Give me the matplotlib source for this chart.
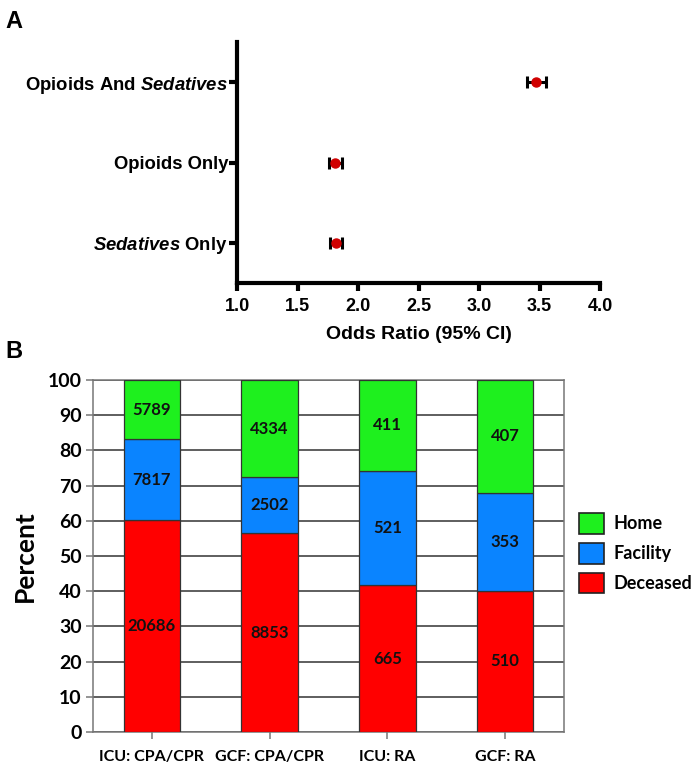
import matplotlib
matplotlib.use("Agg")
import matplotlib.pyplot as plt
import numpy as np

# ---- Panel A data ----
a_labels = ["$\\mathit{Sedatives}$ Only", "Opioids Only", "Opioids And $\\mathit{Sedatives}$"]
a_or = [1.82, 1.81, 3.47]
a_lo = [1.77, 1.76, 3.40]
a_hi = [1.87, 1.87, 3.55]
a_xticks = [1.0, 1.5, 2.0, 2.5, 3.0, 3.5, 4.0]

# ---- Panel B data ----
b_cats = ["ICU: CPA/CPR", "GCF: CPA/CPR", "ICU: RA", "GCF: RA"]
b_deceased = [20686, 8853, 665, 510]
b_facility = [7817, 2502, 521, 353]
b_home = [5789, 4334, 411, 407]
b_series = ["Deceased", "Facility", "Home"]
b_colors = ["#FF0000", "#0A84FF", "#1EF01E"]
b_yticks = list(range(0, 101, 10))

plt.rcParams['mathtext.fontset'] = 'custom'
plt.rcParams['mathtext.it'] = 'Liberation Sans:italic:bold'
plt.rcParams['mathtext.rm'] = 'Liberation Sans:bold'
plt.rcParams['mathtext.bf'] = 'Liberation Sans:bold'

fig = plt.figure(figsize=(6.93, 7.65), dpi=100)

# ---------------- Panel A ----------------
axA = fig.add_axes([0.342, 0.630, 0.5238, 0.315])
ypos = np.arange(len(a_or))
xerr = [np.array(a_or) - np.array(a_lo), np.array(a_hi) - np.array(a_or)]
axA.errorbar(a_or, ypos, xerr=xerr, fmt='none', ecolor='black', elinewidth=2.2,
             capsize=4, capthick=2.2, zorder=2)
axA.plot(a_or, ypos, 'o', color='#D00000', markersize=6.5, zorder=3)
axA.set_xlim(1.0, 4.0)
axA.set_ylim(-0.5, 2.5)
axA.set_xticks(a_xticks)
axA.set_xticklabels([f"{v:.1f}" for v in a_xticks], fontfamily='Liberation Sans',
                    fontweight='bold', fontsize=13)
axA.set_yticks(ypos)
axA.set_yticklabels(a_labels, fontfamily='Liberation Sans', fontweight='bold', fontsize=13.3)
for s in ['top', 'right']:
    axA.spines[s].set_visible(False)
for s in ['left', 'bottom']:
    axA.spines[s].set_linewidth(3)
axA.tick_params(axis='both', width=3, length=6, direction='out')
axA.tick_params(axis='x', pad=5)
axA.tick_params(axis='y', pad=0.5)
axA.set_xlabel("Odds Ratio (95% CI)", fontfamily='Liberation Sans', fontweight='bold',
               fontsize=14, labelpad=8)

fig.text(0.008, 0.972, "A", fontfamily='Liberation Sans', fontweight='bold', fontsize=17,
         va='center', ha='left')
fig.text(0.008, 0.540, "B", fontfamily='Liberation Sans', fontweight='bold', fontsize=17,
         va='center', ha='left')

# ---------------- Panel B ----------------
axB = fig.add_axes([0.1342, 0.0431, 0.6797, 0.4601])
counts = np.array([b_deceased, b_facility, b_home], dtype=float)
totals = counts.sum(axis=0)
pct = counts / totals * 100
x = np.arange(len(b_cats))
bottom = np.zeros(len(b_cats))
handles = []
for i, name in enumerate(b_series):
    h = axB.bar(x, pct[i], width=0.48, bottom=bottom, color=b_colors[i],
                edgecolor='#333333', linewidth=0.9, zorder=3, label=name)
    handles.append(h)
    for j in range(len(b_cats)):
        axB.text(x[j], bottom[j] + pct[i][j] / 2, f"{int(counts[i][j])}",
                 ha='center', va='center', fontfamily='Lato', fontweight='bold',
                 fontsize=12, color='#111111', zorder=4)
    bottom += pct[i]

axB.set_xlim(-0.5, 3.5)
axB.set_ylim(0, 100)
axB.set_yticks(b_yticks)
axB.set_yticklabels([str(v) for v in b_yticks], fontfamily='Lato', fontweight='bold', fontsize=14)
axB.set_xticks(x)
axB.set_xticklabels(b_cats, fontfamily='Lato', fontweight='bold', fontsize=11.5)
axB.yaxis.grid(True, color='#333333', linewidth=1.1, zorder=0)
axB.set_axisbelow(True)
for s in axB.spines.values():
    s.set_color('#777777')
    s.set_linewidth(1.1)
axB.tick_params(axis='y', length=5, width=1.1, color='#777777', pad=3)
axB.tick_params(axis='x', length=5, width=1.1, color='#777777', pad=8)
axB.set_ylabel("Percent", fontfamily='Lato', fontweight='bold', fontsize=19, labelpad=8)

leg = fig.legend(handles=handles[::-1], labels=b_series[::-1],
                 loc='center left', bbox_to_anchor=(0.812, 0.277),
                 frameon=False, prop={'family': 'Lato', 'weight': 'bold', 'size': 13},
                 handlelength=1.4, handleheight=1.4, handletextpad=0.5, labelspacing=0.5)
for p in leg.get_patches():
    p.set_edgecolor('#222222')
    p.set_linewidth(1.2)

fig.savefig("out.png", dpi=100)
